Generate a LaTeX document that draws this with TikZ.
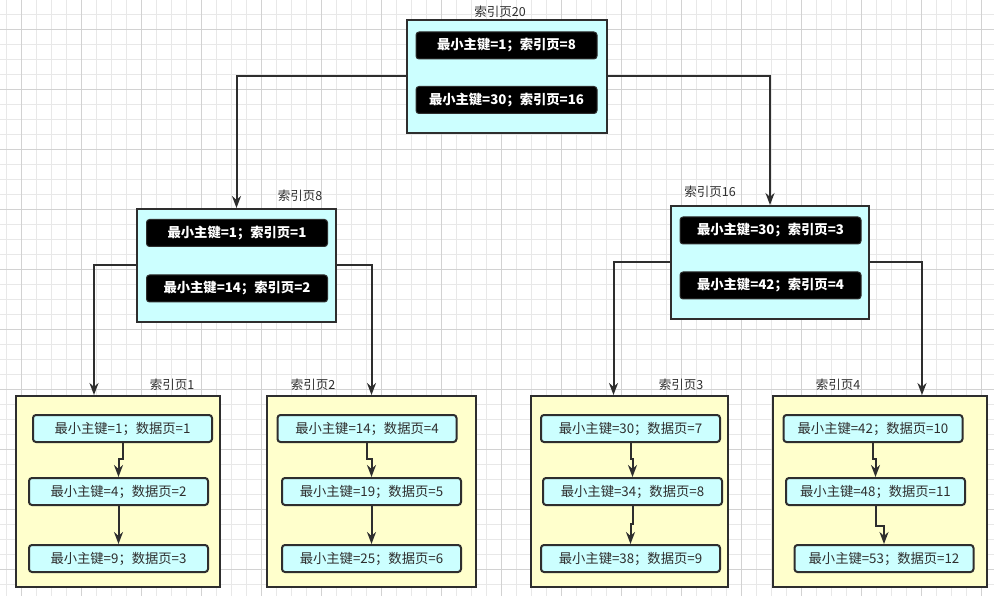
\documentclass[tikz,border=0pt]{standalone}
\usepackage{fontspec}
\setmainfont{Noto Sans CJK SC}
\usepackage{xcolor}
\usetikzlibrary{positioning,calc,arrows.meta}

\definecolor{pagecyan}{HTML}{CCFFFF}
\definecolor{pageyellow}{HTML}{FFFFCC}
\definecolor{edgegray}{HTML}{2E2E2E}
\definecolor{gridminor}{HTML}{E8E8E8}
\definecolor{gridmajor}{HTML}{D2D2D2}

\tikzset{
    idxpage/.style={draw=edgegray, line width=2pt, fill=pagecyan, inner sep=0pt, minimum height=113pt},
    leafpage/.style={draw=edgegray, line width=2pt, fill=pageyellow, inner sep=0pt, minimum height=191pt},
    keyrow/.style={draw=edgegray, line width=1pt, fill=black, rounded corners=3pt, text=white, font=\fontsize{13.3}{15}\selectfont\bfseries, inner sep=0pt, minimum width=181pt, minimum height=27pt},
    datarow/.style={draw=edgegray, line width=2pt, fill=pagecyan, rounded corners=3pt, text=edgegray, font=\fontsize{13.3}{15}\selectfont, inner sep=0pt, minimum width=179pt, minimum height=27pt},
    pagename/.style={text=edgegray, font=\fontsize{12.5}{14}\selectfont, inner sep=0pt},
    link/.style={draw=edgegray, line width=2pt, -{Stealth[length=12pt,width=9pt]}}
}

\begin{document}
\begin{tikzpicture}[x=1pt, y=-1pt]
    \useasboundingbox (0,0) rectangle (994,596);
    \fill [white] (0,0) rectangle (994,596);

    % grid
    \foreach \gx in {6,21,...,996} \draw [gridminor, line width=0.7pt] (\gx,0) -- (\gx,596);
    \foreach \gy in {14,29,...,596} \draw [gridminor, line width=0.7pt] (0,\gy) -- (994,\gy);
    \foreach \gx in {21,81,...,996} \draw [gridmajor, line width=0.7pt] (\gx,0) -- (\gx,596);
    \foreach \gy in {29,89,...,596} \draw [gridmajor, line width=0.7pt] (0,\gy) -- (994,\gy);

    % root index page 20
    \node [idxpage, minimum width=200pt] (p20) at (507,76.5) {};
    \node [keyrow] (k20a) at (506.5,45.5) {最小主键=1；索引页=8};
    \node [keyrow] (k20b) at (506.5,100) {最小主键=30；索引页=16};
    \node [pagename] (n20) at (500,12) {索引页20};

    % index page 8
    \node [idxpage, minimum width=199pt] (p8) at (236.5,265.5) {};
    \node [keyrow] (k8a) at (237,233) {最小主键=1；索引页=1};
    \node [keyrow] (k8b) at (237,288.5) {最小主键=14；索引页=2};
    \node [pagename] (n8) at (300,196) {索引页8};

    % index page 16
    \node [idxpage, minimum width=198pt] (p16) at (770,262.5) {};
    \node [keyrow] (k16a) at (770.5,230.5) {最小主键=30；索引页=3};
    \node [keyrow] (k16b) at (770.5,285.5) {最小主键=42；索引页=4};
    \node [pagename] (n16) at (710,192) {索引页16};

    % leaf page 1
    \node [leafpage, minimum width=204pt] (p1) at (118,491.5) {};
    \node [datarow] (c11) at (122.5,428.5) {最小主键=1；数据页=1};
    \node [datarow] (c12) at (118.5,491.5) {最小主键=4；数据页=2};
    \node [datarow] (c13) at (118.5,558.5) {最小主键=9；数据页=3};
    \node [pagename] (n1) at (172,385) {索引页1};

    % leaf page 2
    \node [leafpage, minimum width=209pt] (p2) at (371.5,491.5) {};
    \node [datarow] (c21) at (367,428.5) {最小主键=14；数据页=4};
    \node [datarow] (c22) at (371.5,491.5) {最小主键=19；数据页=5};
    \node [datarow] (c23) at (371.5,558.5) {最小主键=25；数据页=6};
    \node [pagename] (n2) at (313,385) {索引页2};

    % leaf page 3
    \node [leafpage, minimum width=197pt] (p3) at (629.5,491.5) {};
    \node [datarow] (c31) at (630.5,428.5) {最小主键=30；数据页=7};
    \node [datarow] (c32) at (632.5,491.5) {最小主键=34；数据页=8};
    \node [datarow] (c33) at (630.5,558.5) {最小主键=38；数据页=9};
    \node [pagename] (n3) at (681,385) {索引页3};

    % leaf page 4
    \node [leafpage, minimum width=214pt] (p4) at (880,491.5) {};
    \node [datarow] (c41) at (873,428.5) {最小主键=42；数据页=10};
    \node [datarow] (c42) at (875.5,491.5) {最小主键=48；数据页=11};
    \node [datarow] (c43) at (884,558.5) {最小主键=53；数据页=12};
    \node [pagename] (n4) at (838,385) {索引页4};

    % page pointers
    \draw [link] (p20.west) -| (p8.north);
    \draw [link] (p20.east) -| (p16.north);
    \draw [link] (p8.west) -| ([xshift=-24pt]p1.north);
    \draw [link] (p8.east) -| (p2.north);
    \draw [link] (p16.west) -| ([xshift=-16pt]p3.north);
    \draw [link] (p16.east) -| ([xshift=42pt]p4.north);

    % record chains
    \draw [link] (c11.south) -- ++(0,16) -| (c12.north);
    \draw [link] (c12.south) -- ++(0,18) -| (c13.north);
    \draw [link] (c21.south) -- ++(0,16) -| (c22.north);
    \draw [link] (c22.south) -- ++(0,18) -| (c23.north);
    \draw [link] (c31.south) -- ++(0,16) -| (c32.north);
    \draw [link] (c32.south) -- ++(0,18) -| (c33.north);
    \draw [link] (c41.south) -- ++(0,16) -| (c42.north);
    \draw [link] (c42.south) -- ++(0,20) -| (c43.north);
\end{tikzpicture}
\end{document}
